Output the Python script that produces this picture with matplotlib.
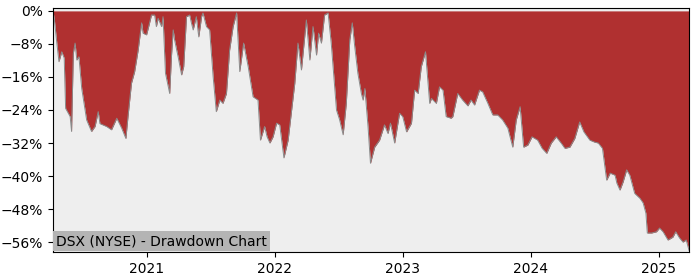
import matplotlib
matplotlib.use("Agg")
import matplotlib.pyplot as plt
import matplotlib.dates as mdates
from matplotlib.ticker import FuncFormatter
import pandas as pd

# drawdown series (percent)
dates = [
    "2020-04-08", "2020-04-12", "2020-04-19", "2020-04-25", "2020-05-03", "2020-05-10",
    "2020-05-14", "2020-05-27", "2020-05-31", "2020-06-05", "2020-06-10", "2020-06-15",
    "2020-06-21", "2020-06-29", "2020-07-13", "2020-07-27", "2020-08-06", "2020-08-15",
    "2020-08-20", "2020-09-08", "2020-09-22", "2020-10-07", "2020-10-21", "2020-11-02",
    "2020-11-08", "2020-11-18", "2020-11-27", "2020-12-07", "2020-12-17", "2020-12-21",
    "2020-12-31", "2021-01-06", "2021-01-14", "2021-01-23", "2021-01-28", "2021-02-02",
    "2021-02-12", "2021-02-16", "2021-02-23", "2021-03-07", "2021-03-12", "2021-03-17",
    "2021-03-21", "2021-03-31", "2021-04-10", "2021-04-16", "2021-04-24", "2021-05-03",
    "2021-05-08", "2021-05-13", "2021-05-22", "2021-05-29", "2021-06-06", "2021-06-10",
    "2021-06-20", "2021-06-29", "2021-07-09", "2021-07-18", "2021-07-28", "2021-08-06",
    "2021-08-16", "2021-08-25", "2021-09-04", "2021-09-14", "2021-09-23", "2021-10-04",
    "2021-10-17", "2021-10-31", "2021-11-14", "2021-11-21", "2021-12-03", "2021-12-10",
    "2021-12-18", "2021-12-27", "2022-01-06", "2022-01-15", "2022-01-27", "2022-02-08",
    "2022-02-18", "2022-02-27", "2022-03-08", "2022-03-18", "2022-04-01", "2022-04-11",
    "2022-04-20", "2022-04-30", "2022-05-06", "2022-05-14", "2022-05-23", "2022-06-02",
    "2022-06-11", "2022-06-26", "2022-07-05", "2022-07-15", "2022-07-24", "2022-08-03",
    "2022-08-10", "2022-08-17", "2022-08-26", "2022-09-05", "2022-09-10", "2022-09-15",
    "2022-09-24", "2022-10-01", "2022-10-13", "2022-10-27", "2022-11-10", "2022-11-20",
    "2022-11-27", "2022-12-09", "2022-12-23", "2023-01-01", "2023-01-12", "2023-01-26",
    "2023-02-04", "2023-02-14", "2023-02-23", "2023-03-07", "2023-03-19", "2023-03-24",
    "2023-04-07", "2023-04-16", "2023-04-26", "2023-05-05", "2023-05-19", "2023-05-24",
    "2023-06-07", "2023-06-21", "2023-07-06", "2023-07-15", "2023-07-25", "2023-08-08",
    "2023-08-17", "2023-09-01", "2023-09-15", "2023-09-29", "2023-10-13", "2023-10-28",
    "2023-11-11", "2023-11-21", "2023-12-02", "2023-12-12", "2023-12-24", "2024-01-05",
    "2024-01-21", "2024-02-03", "2024-02-16", "2024-02-29", "2024-03-14", "2024-03-28",
    "2024-04-08", "2024-04-22", "2024-05-06", "2024-05-20", "2024-06-01", "2024-06-18",
    "2024-07-02", "2024-07-12", "2024-07-24", "2024-08-05", "2024-08-15", "2024-08-29",
    "2024-09-03", "2024-09-12", "2024-09-21", "2024-10-01", "2024-10-10", "2024-10-24",
    "2024-11-08", "2024-11-17", "2024-11-25", "2024-11-29", "2024-12-11", "2024-12-25",
    "2025-01-03", "2025-01-13", "2025-01-27", "2025-02-10", "2025-02-18", "2025-03-01",
    "2025-03-11", "2025-03-20", "2025-03-28",
]
drawdown = [
    0.0, -2.2, -7.8, -12.3, -9.9, -11.4,
    -23.6, -25.6, -29.2, -10.3, -7.8, -11.9,
    -11.1, -18.8, -26.4, -29.2, -28.0, -24.4,
    -27.3, -28.0, -28.8, -26.0, -28.4, -30.9,
    -25.6, -17.5, -14.7, -9.5, -2.9, -5.4,
    -5.8, -3.8, -1.0, -1.0, -3.8, -1.8,
    -3.8, -1.4, -15.1, -20.0, -11.1, -4.6,
    -7.0, -11.1, -15.5, -13.5, -1.4, -1.0,
    -2.9, -4.6, -1.4, -6.3, -1.4, -0.5,
    -3.8, -4.6, -15.9, -24.4, -21.6, -22.4,
    -20.0, -9.5, -3.8, -0.5, -14.7, -7.8,
    -13.5, -20.8, -21.6, -31.3, -28.0, -30.5,
    -32.0, -30.5, -27.2, -27.6, -35.6, -31.3,
    -24.0, -17.5, -7.8, -14.3, -2.2, -11.9,
    -3.8, -10.7, -5.4, -7.8, -1.0, -0.5,
    -7.8, -24.0, -26.4, -30.0, -22.4, -7.0,
    -2.9, -8.6, -15.1, -20.0, -21.6, -18.8,
    -28.0, -36.9, -33.0, -31.3, -27.6, -29.7,
    -27.2, -32.0, -24.8, -25.6, -29.3, -27.2,
    -19.2, -20.0, -13.5, -9.9, -22.4, -21.2,
    -22.4, -18.4, -19.2, -25.6, -26.0, -25.6,
    -20.0, -21.6, -23.0, -21.6, -22.8, -19.2,
    -19.6, -22.4, -25.2, -25.2, -26.4, -28.4,
    -33.0, -26.4, -23.2, -33.0, -32.5, -30.5,
    -31.3, -33.3, -34.5, -32.0, -30.5, -32.0,
    -33.3, -33.0, -30.9, -26.9, -29.3, -31.3,
    -31.8, -32.0, -33.3, -41.0, -39.3, -39.8,
    -41.7, -43.4, -41.4, -38.5, -39.8, -44.2,
    -45.4, -46.5, -49.0, -53.8, -53.8, -53.5,
    -52.6, -53.5, -55.5, -54.8, -53.5, -55.0,
    -56.0, -55.5, -58.0,
]
yticks = [0, -8, -16, -24, -32, -40, -48, -56]
title = "DSX (NYSE) - Drawdown Chart"

x = pd.to_datetime(dates)

fig = plt.figure(figsize=(7, 2.8), dpi=100)
ax = fig.add_axes([0.0757, 0.1, 0.9086, 0.8714])
ax.set_facecolor("#eeeeee")

ax.fill_between(x, drawdown, 0, color="#b03030", linewidth=0)
ax.plot(x, drawdown, color="#8a8a8a", linewidth=0.7)

ax.set_xlim(x[0], x[-1])
ax.set_ylim(-58.4, 0.7)
ax.set_yticks(yticks)
ax.yaxis.set_major_formatter(FuncFormatter(lambda v, p: f"{v:.0f}%".replace("-", "\u2212")))
ax.xaxis.set_major_locator(mdates.YearLocator())
ax.xaxis.set_major_formatter(mdates.DateFormatter("%Y"))

ax.text(0.0047, 0.016, title, transform=ax.transAxes, fontsize=10,
        va="bottom", ha="left",
        bbox=dict(facecolor="#b4b4b4", edgecolor="none", pad=2))

fig.savefig("out.png", dpi=100)
